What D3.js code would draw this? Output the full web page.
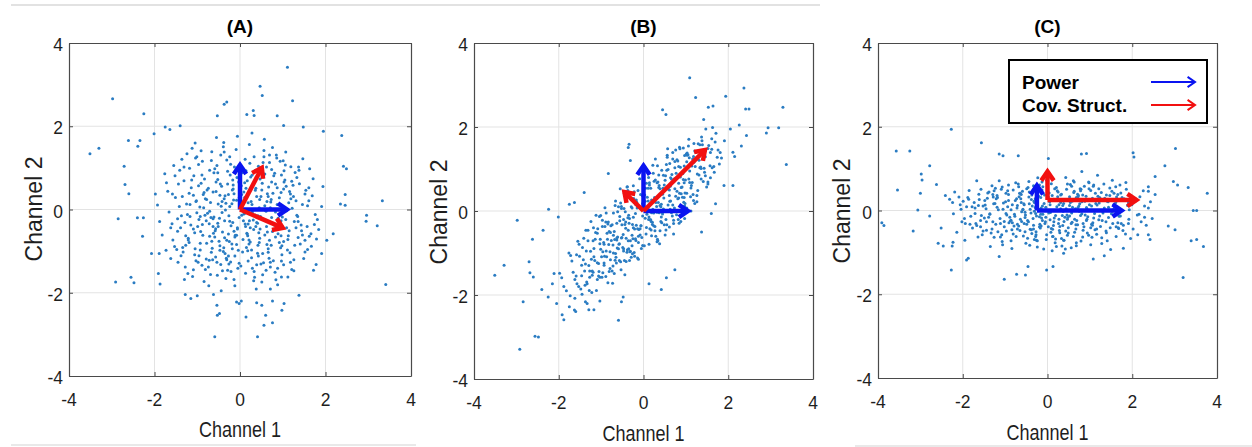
<!DOCTYPE html>
<html>
<head>
<meta charset="utf-8">
<script src="https://cdn.jsdelivr.net/npm/d3@7"></script>
<style>
  body { margin: 0; background: #fff; }
  svg { display: block; font-family: Arial, "Liberation Sans", sans-serif; }
</style>
</head>
<body>
<div id="chart"></div>
<script>
var svgWidth = 1252;
var svgHeight = 447;

// tick values shared by all three panels
var tickValues = [-4, -2, 0, 2, 4];
var gridValues = [-2, 0, 2];
var panelTitles = ["(A)", "(B)", "(C)"];
var legendLabels = ["Power", "Cov. Struct."];

// scatter points, [channel1, channel2]
var pointsA = [
  [0.12,-0.35],[-0.84,0.41],[1.03,0.66],[-0.27,-1.12],[0.58,0.09],[-1.46,-0.52],[0.33,1.27],[-0.61,-0.18],[1.52,-0.74],[0.05,0.88],
  [-0.93,-0.97],[0.71,-1.38],[-0.15,0.23],[1.18,0.37],[-1.72,0.64],[0.44,-0.56],[-0.38,1.61],[0.89,-0.21],[-1.09,-1.45],[0.21,-0.83],
  [-0.52,0.72],[1.37,1.02],[-0.06,-0.47],[0.67,0.54],[-1.25,0.13],[0.95,-0.92],[-0.71,-0.64],[0.28,1.84],[-1.88,-0.29],[1.61,0.21],
  [-0.33,-1.66],[0.49,0.31],[-0.97,1.08],[1.84,-0.48],[0.09,-0.11],[-0.47,-0.87],[0.76,1.49],[-1.33,-1.02],[0.38,-1.91],[-0.18,0.47],
  [1.09,-0.03],[-0.81,0.26],[0.17,0.69],[-1.57,-0.73],[0.62,-0.41],[-0.24,-0.28],[1.26,-1.21],[-0.66,1.39],[0.97,0.83],[-0.02,-1.29],
  [-1.14,0.52],[0.41,-1.05],[-0.44,0.08],[1.71,0.74],[-0.89,-1.34],[0.26,0.19],[-1.98,0.37],[0.83,-0.66],[-0.13,1.02],[1.43,-0.37],
  [-0.58,-0.51],[0.07,-0.72],[-1.36,1.21],[0.54,1.13],[-0.76,-0.09],[1.12,-1.62],[-0.29,0.61],[0.93,0.12],[-1.62,-1.18],[0.31,-0.25],
  [-0.09,1.44],[1.58,-0.96],[-0.99,-0.41],[0.68,-1.17],[-0.41,-1.47],[1.24,0.58],[-1.19,-0.79],[0.16,-0.57],[-0.71,0.94],[0.47,0.73],
  [1.91,0.07],[-0.36,-0.68],[0.85,-0.48],[-1.51,0.29],[0.22,1.56],[-0.64,-1.21],[1.33,-0.14],[-0.18,-0.94],[-1.08,0.81],[0.59,-0.02],
  [-0.47,0.34],[1.02,-1.33],[-0.84,-1.73],[0.36,0.46],[-1.29,-0.31],[0.74,0.96],[-0.02,-0.19],[1.47,1.22],[-0.55,1.73],[0.13,-1.53],
  [-1.66,-0.06],[0.92,-0.79],[-0.23,0.83],[0.51,-1.74],[-1.03,0.19],[1.19,0.26],[-0.35,-1.06],[0.66,0.31],[-0.87,-0.62],[1.66,-0.58],
  [0.03,0.57],[-1.41,0.94],[0.79,-0.33],[-0.52,-0.33],[1.29,0.89],[-0.12,-1.83],[0.43,1.04],[-1.82,-0.61],[0.98,-1.09],[-0.69,0.17],
  [0.24,-0.44],[-0.96,-0.24],[1.54,0.46],[-0.31,1.19],[0.63,-0.84],[-1.22,-1.54],[0.11,0.29],[1.07,1.38],[-0.49,-0.76],[0.82,-1.51],
  [-1.55,1.06],[0.35,-0.13],[-0.74,-1.38],[1.36,-0.67],[-0.16,0.59],[0.57,1.69],[-1.05,-0.94],[0.19,-1.24],[-0.42,-0.07],[1.81,-0.24],
  [-0.91,0.63],[0.72,0.18],[-0.27,-0.59],[1.15,-0.51],[-1.39,-0.44],[0.46,-0.69],[-0.59,0.98],[0.94,1.16],[-0.08,-0.84],[-1.12,1.47],
  [0.61,-0.26],[-0.45,1.31],[1.22,0.03],[-0.79,-1.19],[0.29,-1.41],[-1.69,0.44],[0.87,0.52],[-0.21,-0.39],[1.49,-1.18],[-0.63,-0.22],
  [0.14,0.93],[-1.27,-0.86],[0.78,-1.23],[-0.37,0.26],[1.63,0.98],[-0.94,0.06],[0.39,-0.31],[-0.53,-1.58],[1.05,0.71],[-1.45,-1.27],
  [0.27,-0.97],[-0.06,1.76],[1.31,-0.44],[-0.83,0.73],[0.52,0.63],[-1.17,-0.17],[0.99,-0.18],[-0.26,-1.31],[0.69,1.31],[-1.93,0.11],
  [0.45,0.04],[-0.65,-0.93],[1.41,-0.83],[-0.14,0.38],[0.88,-1.41],[-1.01,1.27],[0.18,-0.63],[-0.77,0.47],[1.76,-0.12],[-0.32,-1.17],
  [0.56,1.42],[-1.48,-0.96],[0.06,-1.02],[1.16,0.43],[-0.57,-0.46],[0.83,-0.06],[-1.31,0.69],[0.34,-1.63],[-0.19,0.14],[1.39,0.62],
  [-0.73,-1.83],[0.64,-0.54],[-1.06,-0.56],[0.25,0.78],[1.11,-0.97],[-0.43,0.56],[0.71,-1.91],[-1.59,-0.34],[0.04,0.36],[0.96,0.41],
  [-0.34,-0.01],[1.27,-0.29],[-0.88,1.16],[0.42,-0.86],[-1.21,-0.69],[0.81,0.87],[-0.05,-1.41],[1.57,-0.41],[-0.67,-1.03],[0.32,0.64],
  [-1.76,0.86],[0.55,-1.28],[-0.25,-0.77],[1.06,1.07],[-0.51,0.13],[0.19,-0.35],[-1.11,-1.61],[0.89,-0.58],[-0.39,1.51],[1.69,0.33],
  [-0.82,-0.14],[0.12,1.21],[1.21,-1.44],[-0.62,-0.57],[0.48,-0.17],[-1.35,0.31],[0.73,0.24],[-0.11,-0.62],[1.02,-0.77],[-0.96,-1.11],
  [0.37,0.51],[-0.54,-1.27],[1.46,0.12],[-0.17,0.71],[0.66,-1.03],[-1.24,1.34],[0.08,-0.27],[0.91,-0.37],[-0.72,-0.34],[1.33,0.77],
  [-0.44,-1.95],[0.58,0.85],[-1.53,-0.89],[0.21,-0.73],[-0.86,0.36],[1.13,-0.63],[-0.29,-1.46],[0.77,0.39],[-1.01,-0.08],[0.53,-1.57],
  [1.79,-0.71],[-0.61,0.88],[0.32,-0.48],[-1.15,-0.37],[0.84,-1.69],[-0.08,0.22],[1.25,0.31],[-0.47,-0.98],[0.62,1.02],[-1.73,-0.98],
  [0.15,-0.91],[-0.91,1.41],[1.08,0.56],[-0.36,-0.27],[0.43,-1.12],[-1.28,-1.38],[0.96,-0.27],[-0.56,0.43],[1.52,-1.02],[-0.03,0.66],
  [-1.18,0.99],[0.69,-0.74],[-0.31,-1.21],[1.35,-0.17],[-0.78,-0.81],[0.28,0.12],[-1.44,0.61],[0.86,1.24],[-0.14,-0.52],[1.18,-1.27],
  [-0.68,-0.19],[0.39,-1.33],[-1.03,-1.23],[0.74,0.66],[-0.22,1.09],[1.62,-0.64],[-0.92,-0.53],[0.11,-0.09],[0.97,-1.62],[-1.37,-0.15],
  [0.42,-0.15],[-0.27,0.36],[0.81,-0.38],[-0.63,-0.41],[0.14,0.51],[-1.02,0.21],[0.55,0.78],[-0.38,-0.92],[1.14,0.16],[-0.12,-0.66],
  [0.23,1.11],[-0.79,-0.27],[0.96,-0.63],[-0.46,0.61],[0.04,-0.14],[1.28,-0.86],[-1.19,0.39],[0.37,-0.41],[-0.54,1.06],[0.71,0.04],
  [-0.21,-1.49],[1.03,0.93],[-0.89,0.83],[0.18,-0.99],[-0.33,0.15],[0.61,-1.46],[-1.27,-0.63],[0.46,0.24],[-0.07,0.77],[1.44,-0.51],
  [-0.66,-0.76],[0.29,-0.06],[-1.42,0.07],[0.85,1.31],[-0.17,-0.31],[0.66,-0.94],[-0.98,-1.27],[0.09,0.42],[-0.48,-0.21],[1.17,-1.04],
  [0.51,0.47],[-0.74,0.51],[0.32,-1.71],[-1.09,-0.47],[0.92,0.28],[-0.24,1.27],[1.58,0.09],[-0.57,-1.14],[0.13,-0.41],[-1.31,1.02],
  [0.74,-0.19],[-0.04,-0.98],[-0.85,0.04],[1.21,0.68],[0.36,0.94],[-0.41,-0.54],[0.97,-1.24],[-1.62,-0.44],[0.19,0.16],[-0.69,-1.56],
  [1.36,-0.29],[-0.16,0.49],[0.58,-0.61],[-1.13,0.71],[0.27,-1.16],[-0.31,-0.74],[0.83,0.61],[-0.93,-0.81],[1.67,-0.88],[0.01,0.19],
  [-0.52,0.88],[0.45,-0.79],[-1.23,-0.12],[0.69,1.13],[-0.12,-1.12],[1.09,-0.44],[-0.78,0.24],[0.22,-0.27],[-0.37,1.38],[1.52,0.37],
  [-1.06,-1.09],[0.61,-0.04],[-0.24,0.07],[0.88,-1.81],[-0.63,0.42],[0.34,0.66],[-1.52,0.81],[1.02,0.49],[-0.08,-0.62],[0.49,-1.31],
  [-0.88,-0.36],[1.31,0.21],[0.07,0.98],[-0.45,-1.32],[0.76,-0.53],[-1.34,-0.91],[0.39,0.31],[-0.19,-0.83],[1.19,1.03],[-0.71,-0.04],
  [0.17,-0.59],[-1.04,1.24],[0.94,-0.12],[-0.29,0.92],[0.53,-1.06],[-0.59,-0.66],[1.46,-0.61],[-0.02,0.28],[0.71,-1.27],[-1.17,0.12],
  [0.28,0.82],[-0.81,-1.44],[1.12,-0.72],[-0.35,0.33],[0.64,0.38],[-1.46,-0.22],[0.02,-1.36],[0.87,0.12],[-0.51,-0.41],[1.38,0.94],
  [-0.97,0.57],[0.41,-0.33],[-0.14,-1.68],[1.07,-0.24],[-0.67,1.18],[0.24,-0.78],[-1.21,-0.73],[0.79,0.81],[-0.42,0.19],[1.74,-0.36],
  [-0.06,-0.44],[0.56,1.27],[-0.93,-0.17],[0.33,-1.49],[-1.58,0.37],[0.98,-0.87],[-0.26,-0.15],[0.63,0.19],[-0.72,-1.22],[1.26,-1.47],
  [0.11,0.64],[-0.39,-1.01],[1.01,1.17],[-1.09,0.34],[0.47,-0.47],[-0.56,0.66],[1.61,0.52],[-0.22,-1.26],[0.73,-0.86],[-1.38,-1.11],
  [1.11,3.42],[0.47,2.96],[0.52,2.74],[-2.98,2.66],[-2.25,2.30],[-0.31,2.58],[-0.37,2.53],[1.23,2.61],[0.31,2.38],[0.33,2.26],
  [0.16,2.28],[-0.53,2.25],[0.87,2.25],[-3.51,1.34],[-3.30,1.47],[-2.61,1.66],[-2.34,1.66],[-2.39,1.52],[-2.01,1.82],[-1.75,1.98],
  [-1.64,1.92],[-1.40,2.01],[2.38,1.78],[2.42,1.04],[2.49,0.98],[-2.71,1.04],[-2.69,0.60],[-2.60,0.38],[-2.85,-0.22],[-2.40,-0.20],
  [-2.26,-0.20],[-2.28,-0.64],[-2.07,-1.06],[-1.89,-1.06],[-2.91,-1.74],[-2.55,-1.63],[-2.48,-1.76],[3.33,0.21],[2.96,-0.14],[2.95,-0.28],
  [3.21,-0.39],[3.41,-1.80],[2.46,0.36],[2.35,0.13],[2.46,0.10],[2.03,-0.74],[2.18,-0.58],[1.91,-1.06],[1.72,-1.46],[1.78,-1.32],
  [1.38,-2.06],[1.03,-2.26],[0.98,-2.42],[0.76,-2.20],[0.76,-2.72],[0.56,-2.78],[0.60,-2.54],[0.41,-3.06],[0.39,-2.24],[0.51,-2.30],
  [0.14,-2.58],[-0.59,-3.06],[-0.53,-2.54],[-0.48,-2.50],[-0.54,-2.30],[-0.62,-2.04],[-0.08,-2.22],[-0.02,-2.26],[0.03,-2.20],[-1.15,-2.14],
  [-1.28,-2.04],[-1.00,-2.07],[-1.87,-1.79],[-1.91,-1.54],[1.95,1.88],[1.48,1.98],[1.02,2.02],[-1.05,1.60],[1.94,0.55],[-1.30,-1.68]
];

var pointsB = [
  [0.12,-0.20],[-0.84,-0.31],[1.03,1.38],[-0.27,-0.83],[0.58,0.59],[-1.46,-1.54],[0.33,1.08],[-0.61,-0.62],[1.52,0.69],[0.05,0.54],
  [-0.93,-1.29],[0.71,-0.30],[-0.15,0.07],[1.18,1.30],[-1.72,-1.06],[0.44,-0.03],[-0.38,0.58],[0.89,0.56],[-1.09,-1.63],[0.21,-0.32],
  [-0.52,0.06],[1.37,1.76],[-0.06,-0.35],[0.67,0.87],[-1.25,-0.96],[0.95,0.21],[-0.71,-1.00],[0.28,1.24],[-1.88,-1.80],[1.61,1.47],
  [-0.33,-1.18],[0.49,0.62],[-0.97,-0.22],[1.84,1.26],[0.09,-0.02],[-0.47,-0.90],[0.76,1.45],[-1.33,-1.73],[0.38,-0.78],[-0.18,0.15],
  [1.09,0.95],[-0.81,-0.49],[0.17,0.54],[-1.57,-1.73],[0.62,0.23],[-0.24,-0.40],[1.26,0.37],[-0.66,0.24],[0.97,1.32],[-0.02,-0.82],
  [-1.14,-0.67],[0.41,-0.25],[-0.44,-0.32],[1.71,1.85],[-0.89,-1.56],[0.26,0.32],[-1.98,-1.48],[0.83,0.31],[-0.13,0.49],[1.43,1.02],
  [-0.58,-0.79],[0.07,-0.39],[-1.36,-0.46],[0.54,1.11],[-0.76,-0.70],[1.12,0.00],[-0.29,0.10],[0.93,0.89],[-1.62,-2.08],[0.31,0.11],
  [-0.09,0.77],[1.58,0.79],[-0.99,-1.09],[0.68,-0.12],[-0.41,-1.20],[1.24,1.40],[-1.19,-1.46],[0.16,-0.21],[-0.71,-0.05],[0.47,0.85],
  [1.91,1.67],[-0.36,-0.71],[0.85,0.42],[-1.51,-1.08],[0.22,1.09],[-0.64,-1.24],[1.33,1.03],[-0.18,-0.70],[-1.08,-0.42],[0.59,0.52],
  [-0.47,-0.20],[1.02,0.07],[-0.84,-1.71],[0.36,0.56],[-1.29,-1.30],[0.74,1.18],[-0.02,-0.12],[1.47,1.95],[-0.55,0.53],[0.13,-0.79],
  [-1.66,-1.46],[0.92,0.33],[-0.23,0.30],[0.51,-0.57],[-1.03,-0.78],[1.19,1.16],[-0.35,-0.90],[0.66,0.76],[-0.87,-1.09],[1.66,1.06],
  [0.03,0.38],[-1.41,-0.65],[0.79,0.47],[-0.52,-0.64],[1.29,1.60],[-0.12,-1.15],[0.43,0.97],[-1.82,-1.90],[0.98,0.18],[-0.69,-0.49],
  [0.24,-0.05],[-0.96,-0.97],[1.54,1.56],[-0.31,0.44],[0.63,0.04],[-1.22,-1.94],[0.11,0.24],[1.07,1.71],[-0.49,-0.87],[0.82,-0.20],
  [-1.55,-0.72],[0.35,0.20],[-0.74,-1.43],[1.36,0.76],[-0.16,0.21],[0.57,1.48],[-1.05,-1.44],[0.19,-0.59],[-0.42,-0.41],[1.81,1.39],
  [-0.91,-0.37],[0.72,0.71],[-0.27,-0.58],[1.15,0.68],[-1.39,-1.43],[0.46,-0.01],[-0.59,0.10],[0.94,1.50],[-0.08,-0.57],[-1.12,-0.10],
  [0.61,0.37],[-0.45,0.42],[1.22,1.06],[-0.79,-1.37],[0.29,-0.60],[-1.69,-1.19],[0.87,1.04],[-0.21,-0.43],[1.49,0.57],[-0.63,-0.69],
  [0.14,0.67],[-1.27,-1.58],[0.78,-0.09],[-0.37,-0.16],[1.63,1.99],[-0.94,-0.75],[0.39,0.13],[-0.53,-1.40],[1.05,1.34],[-1.45,-1.98],
  [0.27,-0.37],[-0.06,1.00],[1.31,0.86],[-0.83,-0.26],[0.52,0.84],[-1.17,-1.09],[0.99,0.74],[-0.26,-1.02],[0.69,1.39],[-1.93,-1.59],
  [0.45,0.40],[-0.65,-1.10],[1.41,0.70],[-0.14,0.13],[0.88,-0.10],[-1.01,-0.11],[0.18,-0.25],[-0.77,-0.35],[1.76,1.45],[-0.32,-0.97],
  [0.56,1.33],[-1.48,-1.86],[0.06,-0.55],[1.16,1.24],[-0.57,-0.78],[0.83,0.66],[-1.31,-0.71],[0.34,-0.71],[-0.19,-0.06],[1.39,1.58],
  [-0.73,-1.72],[0.64,0.24],[-1.06,-1.25],[0.25,0.71],[1.11,0.34],[-0.43,-0.02],[0.71,-0.55],[-1.59,-1.55],[0.04,0.23],[0.96,1.07],
  [-0.34,-0.29],[1.27,0.88],[-0.88,-0.05],[0.42,-0.14],[-1.21,-1.43],[0.81,1.19],[-0.05,-0.89],[1.57,1.08],[-0.67,-1.17],[0.32,0.67],
  [-1.76,-1.00],[0.55,-0.33],[-0.25,-0.66],[1.06,1.55],[-0.51,-0.33],[0.19,-0.04],[-1.11,-1.89],[0.89,0.41],[-0.39,0.57],[1.69,1.64],
  [-0.82,-0.80],[0.12,0.80],[1.21,0.18],[-0.62,-0.88],[0.48,0.31],[-1.35,-0.95],[0.73,0.77],[-0.11,-0.44],[1.02,0.42],[-0.96,-1.47],
  [0.37,0.61],[-0.54,-1.21],[1.46,1.29],[-0.17,0.26],[0.66,-0.04],[-1.24,-0.25],[0.08,-0.08],[0.91,0.57],[-0.72,-0.81],[1.33,1.58],
  [-0.44,-1.52],[0.58,0.99],[-1.53,-1.80],[0.21,-0.27],[-0.86,-0.53],[1.13,0.61],[-0.29,-1.10],[0.77,0.90],[-1.01,-0.91],[0.53,-0.45],
  [1.79,1.12],[-0.61,-0.02],[0.32,-0.03],[-1.15,-1.18],[0.84,-0.29],[-0.08,0.08],[1.25,1.26],[-0.47,-0.95],[0.62,1.13],[-1.73,-2.02],
  [0.15,-0.42],[-0.91,0.08],[1.08,1.27],[-0.36,-0.46],[0.43,-0.28],[-1.28,-1.89],[0.96,0.67],[-0.56,-0.23],[1.52,0.64],[-0.03,0.37],
  [-1.18,-0.40],[0.69,0.14],[-0.31,-0.96],[1.35,1.05],[-0.78,-1.16],[0.28,0.29],[-1.44,-0.87],[0.86,1.48],[-0.14,-0.42],[1.18,0.25],
  [-0.68,-0.68],[0.39,-0.47],[-1.03,-1.58],[0.74,1.03],[-0.22,0.46],[1.62,1.03],[-0.92,-1.08],[0.11,0.04],[0.97,-0.18],[-1.37,-1.26],
  [0.42,0.16],[-0.27,0.07],[0.81,0.29],[-0.63,-0.64],[0.14,0.62],[-1.02,-0.67],[0.55,0.97],[-0.38,-0.92],[1.14,1.07],[-0.12,-0.60],
  [0.23,0.90],[-0.79,-0.97],[0.96,0.32],[-0.46,0.06],[0.04,-0.17],[1.28,0.49],[-1.19,-0.71],[0.37,-0.04],[-0.54,0.19],[0.71,0.70],
  [-0.21,-1.08],[1.03,1.33],[-0.89,-0.26],[0.18,-0.45],[-0.33,-0.18],[0.61,-0.38],[-1.27,-1.43],[0.46,0.54],[-0.07,0.39],[1.44,0.92],
  [-0.66,-1.01],[0.29,0.20],[-1.42,-1.16],[0.85,1.52],[-0.17,-0.34],[0.66,0.01],[-0.98,-1.58],[0.09,0.33],[-0.48,-0.56],[1.17,0.39],
  [0.51,0.73],[-0.74,-0.33],[0.32,-0.73],[-1.09,-1.23],[0.92,0.93],[-0.24,0.60],[1.58,1.39],[-0.57,-1.18],[0.13,-0.14],[-1.31,-0.46],
  [0.74,0.53],[-0.04,-0.63],[-0.85,-0.67],[1.21,1.43],[0.36,0.86],[-0.41,-0.65],[0.97,0.12],[-1.62,-1.63],[0.19,0.26],[-0.69,-1.49],
  [1.36,1.01],[-0.16,0.16],[0.58,0.14],[-1.13,-0.51],[0.27,-0.47],[-0.31,-0.71],[0.83,1.06],[-0.93,-1.24],[1.67,0.92],[0.01,0.11],
  [-0.52,0.11],[0.45,-0.07],[-1.23,-1.15],[0.69,1.24],[-0.12,-0.75],[1.09,0.68],[-0.78,-0.51],[0.22,0.04],[-0.37,0.49],[1.52,1.49],
  [-1.06,-1.55],[0.61,0.50],[-0.24,-0.15],[0.88,-0.25],[-0.63,-0.29],[0.34,0.69],[-1.52,-0.79],[1.02,1.17],[-0.08,-0.42],[0.49,-0.33],
  [-0.88,-0.95],[1.31,1.21],[0.07,0.66],[-0.45,-1.18],[0.76,0.35],[-1.34,-1.69],[0.39,0.53],[-0.19,-0.66],[1.19,1.61],[-0.71,-0.58],
  [0.17,-0.21],[-1.04,-0.13],[0.94,0.75],[-0.29,0.30],[0.53,-0.20],[-0.59,-0.90],[1.46,0.84],[-0.02,0.18],[0.71,-0.22],[-1.17,-0.89],
  [0.28,0.74],[-0.81,-1.44],[1.12,0.55],[-0.35,-0.10],[0.64,0.79],[-1.46,-1.29],[0.02,-0.83],[0.87,0.81],[-0.51,-0.63],[1.38,1.67],
  [-0.97,-0.37],[0.41,0.10],[-0.14,-1.12],[1.07,0.76],[-0.67,0.13],[0.24,-0.35],[-1.21,-1.53],[0.79,1.22],[-0.42,-0.26],[1.74,1.28],
  [-0.06,-0.35],[0.56,1.28],[-0.93,-0.79],[0.33,-0.67],[-1.58,-1.04],[0.98,0.43],[-0.26,-0.32],[0.63,0.59],[-0.72,-1.31],[1.26,0.22],
  [0.11,0.54],[-0.39,-0.98],[1.01,1.36],[-1.09,-0.53],[0.47,0.05],[-0.56,-0.13],[1.61,1.72],[-0.22,-0.99],[0.73,0.07],[-1.38,-1.77],
  [1.09,3.17],[2.37,2.93],[1.23,2.70],[2.41,2.43],[2.49,2.43],[3.29,2.47],[1.94,2.73],[1.64,2.50],[1.53,2.47],[0.45,2.41],
  [0.53,2.30],[2.94,1.98],[2.90,1.86],[3.19,1.98],[3.37,1.11],[2.43,1.80],[2.31,1.55],[2.15,1.30],[2.11,1.40],[2.11,0.61],
  [1.90,0.61],[-0.34,1.59],[-0.36,1.51],[-0.31,1.20],[-0.83,0.89],[-1.40,0.44],[-1.63,0.20],[-1.75,0.16],[-2.24,0.04],[-2.01,-0.14],
  [-2.98,-0.22],[-2.62,-0.67],[-2.37,-0.46],[-3.29,-1.29],[-3.51,-1.53],[-2.70,-1.21],[-2.68,-1.47],[-2.60,-1.57],[-2.40,-1.87],[-2.25,-2.05],
  [-2.05,-2.20],[-2.15,-1.73],[-2.11,-1.49],[-2.84,-2.16],[-2.56,-2.98],[-2.48,-3.00],[-2.92,-3.29],[-1.92,-2.47],[-1.88,-2.59],[-1.75,-2.28],
  [-1.63,-2.36],[-1.60,-2.39],[-1.37,-2.16],[-1.33,-2.20],[-1.29,-2.35],[-1.17,-2.35],[-1.03,-2.14],[-0.59,-2.60],[-0.52,-2.16],[-0.48,-2.05],
  [0.13,-1.73],[0.42,-1.87],[0.54,-1.59],[0.74,-1.40],[1.37,-0.50],[1.60,-0.06],[1.70,0.17],[2.05,1.95],[2.26,2.05],[1.42,2.18]
];

var pointsC = [
  [0.35,-0.12],[-1.21,0.28],[1.48,-0.41],[-0.46,0.55],[0.92,0.07],[-1.83,-0.33],[0.13,-0.62],[1.97,0.36],[-0.78,-0.09],[0.61,0.71],
  [-0.15,-0.37],[1.22,0.18],[-1.54,-0.58],[0.47,-0.21],[-0.62,0.19],[2.21,-0.27],[0.04,0.42],[-1.07,-0.74],[1.71,0.61],[-0.31,-0.02],
  [0.83,-0.63],[-2.06,0.14],[0.22,0.09],[1.09,-0.18],[-0.94,0.47],[0.56,-0.89],[-1.39,-0.16],[1.56,0.03],[-0.23,0.78],[0.71,0.29],
  [-0.71,-0.44],[1.84,-0.56],[-0.05,-0.27],[-1.62,0.39],[0.98,0.52],[0.28,-0.48],[-1.16,0.02],[2.43,0.21],[-0.42,-0.83],[1.31,-0.06],
  [0.09,0.64],[-0.88,-0.25],[1.63,0.32],[-1.95,-0.71],[0.67,-0.34],[-0.36,0.11],[1.18,0.84],[-1.31,0.59],[0.44,0.01],[2.02,-0.44],
  [-0.57,-0.61],[0.76,0.16],[-1.71,0.06],[1.41,-0.72],[-0.19,-0.15],[0.31,0.37],[-1.02,-0.39],[1.89,0.12],[-2.31,0.27],[0.52,-0.13],
  [1.07,-0.29],[-0.67,0.33],[0.18,-0.77],[-1.44,-0.47],[1.52,0.46],[-0.27,-0.51],[0.87,0.58],[-0.99,0.21],[2.16,-0.09],[-0.08,0.17],
  [0.64,-0.52],[-1.85,0.48],[1.27,0.27],[-0.52,-0.11],[0.38,-1.02],[-1.27,0.16],[1.74,-0.31],[-0.13,0.49],[0.95,-0.15],[-0.84,-0.91],
  [2.54,0.38],[-0.38,0.26],[0.26,-0.31],[-1.58,-0.24],[1.13,0.41],[-0.75,0.66],[0.58,0.22],[-2.14,-0.52],[1.38,-0.49],[-0.02,-0.58],
  [0.81,0.93],[-1.12,-0.19],[1.96,-0.67],[-0.33,-0.35],[0.45,0.51],[-1.67,0.71],[1.02,-0.82],[-0.61,-0.03],[0.15,0.24],[1.61,0.19],
  [-0.92,0.38],[0.69,-0.24],[-2.22,-0.08],[1.25,-0.38],[-0.44,0.69],[0.33,-0.67],[1.86,0.51],[-1.35,-0.86],[0.07,-0.05],[-0.71,0.12],
  [1.44,0.08],[-0.24,-0.72],[0.91,0.34],[-1.77,-0.42],[0.54,0.62],[-1.05,0.03],[2.33,-0.35],[-0.16,0.31],[1.16,-0.57],[-0.55,-0.31],
  [0.27,0.14],[-1.48,0.24],[1.69,-0.14],[-0.81,-0.56],[0.75,-0.02],[-0.09,-0.92],[1.33,0.63],[-1.91,0.09],[0.49,-0.41],[-0.35,0.44],
  [2.08,0.24],[-0.64,-0.21],[0.12,-0.45],[-1.23,0.53],[1.04,0.11],[-0.47,-0.66],[0.79,-0.73],[-1.56,-0.12],[1.53,0.72],[0.02,0.32],
  [-0.97,-0.49],[0.62,0.43],[-2.41,0.36],[1.21,-0.22],[-0.29,0.07],[0.41,-0.16],[1.78,-0.48],[-1.19,0.36],[0.86,-0.39],[-0.12,-0.24],
  [0.98,0.66],[-1.64,-0.63],[0.21,0.55],[1.49,-0.93],[-0.73,0.28],[0.57,-0.06],[-1.29,-0.27],[2.26,0.47],[-0.41,-0.45],[0.34,-0.85],
  [1.35,0.29],[-0.86,0.02],[0.06,-0.22],[-1.99,0.22],[0.73,0.36],[-0.51,-0.78],[1.92,-0.21],[-0.19,0.61],[0.47,-0.59],[-1.38,0.44],
  [0.89,-0.11],[-0.59,0.46],[1.58,0.09],[-1.08,-0.58],[0.31,0.19],[-0.26,-0.13],[2.47,-0.19],[-1.47,0.13],[0.68,-0.84],[-0.04,0.08],
  [1.12,-0.46],[-0.79,-0.37],[0.43,0.79],[-1.69,-0.31],[1.66,0.38],[-0.32,0.22],[0.19,-0.68],[-1.14,0.71],[0.96,0.26],[-0.53,-0.17],
  [2.13,-0.58],[-0.17,-0.42],[0.66,0.04],[-1.88,0.31],[1.29,-0.01],[-0.68,0.57],[0.39,-0.26],[-1.26,-0.64],[1.81,0.28],[0.11,-0.96],
  [-0.43,0.16],[0.84,-0.47],[-1.52,0.11],[1.47,0.54],[-0.86,-0.72],[0.24,0.33],[1.05,-0.64],[-2.02,-0.27],[0.53,0.28],[-0.11,-0.09],
  [1.73,0.42],[-0.94,0.09],[0.36,-0.36],[-1.41,0.42],[0.78,0.47],[-0.24,-0.87],[1.38,-0.27],[-0.65,-0.48],[2.38,0.06],[0.17,0.52],
  [-1.22,-0.33],[0.93,-0.21],[-0.37,0.37],[1.54,-0.31],[-0.76,0.24],[0.61,-0.62],[-1.73,0.19],[1.19,0.34],[-0.06,-0.31],[0.72,0.07],
  [-0.49,0.52],[1.99,0.14],[-1.31,-0.44],[0.46,-0.11],[1.02,0.48],[-0.89,-0.16],[0.14,0.27],[-2.19,0.44],[1.28,-0.79],[-0.28,-0.62],
  [0.71,0.39],[-1.09,0.51],[1.62,-0.39],[-0.58,0.03],[0.29,-0.53],[-1.58,-0.39],[0.99,0.14],[-0.21,0.34],[1.85,0.67],[-0.83,-0.29],
  [0.52,0.12],[-1.36,-0.08],[1.09,0.61],[-0.31,-0.69],[0.84,-0.31],[-1.96,-0.19],[1.41,0.22],[-0.66,0.41],[0.09,-0.43],[2.29,0.11],
  [-1.04,0.18],[0.38,-0.71],[1.76,0.31],[-0.45,-0.27],[0.63,0.68],[-1.61,0.26],[1.23,-0.13],[-0.15,0.06],[0.94,-0.54],[-0.92,0.61],
  [1.51,-0.08],[-0.71,-0.33],[0.25,0.44],[-1.28,0.32],[2.05,0.29],[-0.37,-0.55],[0.81,0.21],[-1.81,-0.14],[1.14,0.17],[-0.02,0.72],
  [0.58,-0.28],[-1.17,-0.51],[1.39,0.37],[-0.55,0.14],[0.16,-0.18],[-2.09,0.32],[1.68,-0.43],[-0.33,0.59],[0.77,0.52],[-0.98,-0.07],
  [1.93,0.02],[-0.62,0.38],[0.42,-0.92],[-1.45,0.04],[1.06,-0.35],[-0.14,-0.18],[0.68,0.31],[-1.02,-0.26],[1.57,0.24],[-0.26,0.11],
  [0.27,-0.21],[-0.83,0.14],[1.34,0.06],[-0.38,-0.46],[0.72,0.33],[-1.49,-0.18],[0.05,0.21],[1.66,-0.29],[-0.64,0.41],[0.49,-0.54],
  [-0.21,0.03],[1.02,-0.41],[-1.26,0.47],[0.36,0.12],[-0.49,-0.33],[1.91,0.18],[-0.03,-0.69],[-0.96,-0.11],[1.21,0.52],[0.14,-0.36],
  [0.63,0.46],[-1.67,-0.36],[0.19,-0.12],[0.88,0.22],[-0.74,-0.62],[0.41,0.26],[-1.18,0.31],[1.44,-0.17],[-0.29,0.28],[0.56,-0.31],
  [-0.58,0.02],[1.57,0.41],[-0.11,0.57],[-1.33,-0.54],[0.81,-0.08],[0.21,-0.86],[-0.92,0.24],[2.12,-0.11],[-0.34,-0.19],[1.06,0.29],
  [0.02,-0.39],[-0.69,0.63],[1.28,-0.65],[-1.78,0.09],[0.54,0.19],[-0.27,-0.58],[0.97,0.68],[-1.11,-0.31],[0.33,0.39],[1.79,-0.35],
  [-0.44,0.32],[0.67,-0.44],[-1.57,0.51],[1.17,0.13],[-0.12,0.11],[0.39,-0.71],[-0.84,-0.46],[1.61,0.57],[-2.04,0.03],[0.44,0.04],
  [0.92,-0.24],[-0.53,-0.04],[0.11,0.36],[-1.24,0.17],[1.39,-0.53],[-0.18,-0.33],[0.74,0.11],[-0.81,0.49],[1.98,0.23],[-0.04,-0.16],
  [0.57,0.58],[-1.44,-0.27],[1.11,-0.07],[-0.43,0.44],[0.29,-0.38],[-1.06,-0.82],[1.53,-0.02],[-0.26,-0.71],[0.83,0.37],[-0.72,0.06],
  [2.29,-0.16],[-0.31,0.19],[0.23,0.47],[-1.36,-0.09],[0.97,-0.59],[-0.61,-0.26],[0.48,-0.17],[-1.86,0.27],[1.27,0.43],[0.03,-0.06],
  [0.68,-0.77],[-0.98,0.41],[1.72,-0.13],[-0.24,0.51],[0.37,-0.02],[-1.52,-0.49],[0.86,0.26],[-0.53,-0.51],[0.12,-0.62],[1.43,0.21],
  [-0.77,-0.14],[0.59,0.08],[-1.94,-0.31],[1.08,0.58],[-0.39,-0.06],[0.26,0.26],[1.67,-0.41],[-1.19,0.08],[0.15,-0.27],[-0.63,0.28],
  [1.29,-0.24],[-0.19,-0.39],[0.79,0.51],[-1.63,0.12],[0.43,-0.49],[-0.91,-0.29],[2.18,0.33],[-0.07,0.37],[1.04,-0.33],[-0.47,-0.24],
  [0.31,0.04],[-1.29,0.38],[1.56,0.14],[-0.68,-0.37],[0.64,-0.21],[-0.13,0.68],[1.23,0.31],[-1.71,-0.07],[0.52,0.33],[-0.28,-0.07],
  [1.91,-0.31],[-0.56,0.16],[0.08,-0.52],[-1.11,-0.63],[0.93,0.04],[-0.41,0.03],[0.71,-0.34],[-1.42,0.29],[1.47,0.36],[0.06,0.14],
  [-0.86,-0.23],[0.47,0.63],[-2.24,0.19],[1.16,-0.44],[-0.33,-0.44],[0.38,0.17],[1.62,-0.62],[-1.07,0.56],[0.78,-0.12],[-0.16,-0.09],
  [-2.27,1.94],[-1.56,1.62],[-3.57,1.42],[-3.25,1.42],[3.02,1.48],[2.02,1.38],[2.04,1.28],[-1.14,1.35],[-1.05,1.31],[-0.69,1.31],
  [0.02,1.24],[0.80,1.35],[0.92,1.36],[-2.78,1.07],[-2.98,0.87],[-2.96,0.73],[-3.54,0.49],[-3.91,-0.29],[-3.86,-0.36],[-3.17,-0.49],
  [-3.06,0.01],[-3.00,0.41],[-2.78,-0.13],[-2.58,-0.78],[-2.46,-0.85],[-2.25,-0.85],[-2.23,-0.76],[-2.27,-1.42],[-1.91,-1.18],[-1.87,-1.14],
  [-1.14,-1.10],[-1.02,-1.64],[-0.73,-1.52],[-0.52,-1.54],[-0.46,-1.34],[-0.02,-1.42],[0.13,-1.34],[1.08,-1.16],[1.34,-1.08],[1.79,-0.90],
  [3.20,-1.60],[3.68,-0.86],[3.52,-0.69],[3.39,-0.72],[3.44,0.00],[3.52,0.00],[3.77,0.41],[3.32,0.55],[3.07,0.61],[2.97,0.69],
  [2.77,1.07],[2.38,0.46],[2.38,0.57],[2.54,0.81],[3.01,-0.46],[2.85,-0.37],[2.42,-0.69],[2.38,-0.58],[-2.62,0.62],[-2.51,-0.42]
];

// arrows [x1, y1, x2, y2] in data units
var powerArrows = [
  [[0, 0, 0, 1.07], [0, 0, 1.1, 0]],
  [[0, 0, 0, 1.08], [0, 0, 1.05, 0]],
  [[-0.25, 0, -0.25, 0.6], [-0.25, 0, 1.75, 0]]
];
var covArrows = [
  [[0, 0, 0.51, 1.0], [0, 0, 1.0, -0.44]],
  [[0, 0, 1.45, 1.45], [0, 0, -0.45, 0.45]],
  [[0, 0.25, 0, 0.93], [0, 0.25, 2.1, 0.25]]
];

var allPoints = [pointsA, pointsB, pointsC];

// pixel layout of each axes box (left, right, top, bottom) and label spots
var layout = [
  {left: 69, right: 411, top: 43, bottom: 376, xlabY: 437, ylabX: 42, ylabY: 209},
  {left: 474, right: 813, top: 43, bottom: 379, xlabY: 441, ylabX: 447, ylabY: 212},
  {left: 878, right: 1217, top: 43, bottom: 378, xlabY: 440, ylabX: 850, ylabY: 211}
];

var blue = "#0a14f0";
var red = "#f21010";

var svg = d3.select("#chart")
  .append("svg")
  .attr("width", svgWidth)
  .attr("height", svgHeight);

// faint frame lines from the original figure
svg.append("line").attr("x1", 11).attr("x2", 820).attr("y1", 5).attr("y2", 5)
  .attr("stroke", "#e2e2e2").attr("stroke-width", 2);
svg.append("line").attr("x1", 11).attr("x2", 416).attr("y1", 445).attr("y2", 445)
  .attr("stroke", "#e2e2e2").attr("stroke-width", 1.5);
svg.append("line").attr("x1", 855).attr("x2", 1252).attr("y1", 446).attr("y2", 446)
  .attr("stroke", "#e2e2e2").attr("stroke-width", 1.5);

function drawArrow(g, x1, y1, x2, y2, color, width, head) {
  g.append("line")
    .attr("x1", x1).attr("y1", y1)
    .attr("x2", x2).attr("y2", y2)
    .attr("stroke", color)
    .attr("stroke-width", width);
  var ang = Math.atan2(y2 - y1, x2 - x1);
  var a1 = ang + Math.PI - 0.6;
  var a2 = ang + Math.PI + 0.6;
  g.append("path")
    .attr("d", "M" + (x2 + head * Math.cos(a1)) + "," + (y2 + head * Math.sin(a1)) +
      "L" + x2 + "," + y2 +
      "L" + (x2 + head * Math.cos(a2)) + "," + (y2 + head * Math.sin(a2)))
    .attr("fill", "none")
    .attr("stroke", color)
    .attr("stroke-width", width)
    .attr("stroke-linejoin", "miter");
}

layout.forEach(function(p, i) {
  var g = svg.append("g");

  var x = d3.scaleLinear().domain([-4, 4]).range([p.left, p.right]);
  var y = d3.scaleLinear().domain([-4, 4]).range([p.bottom, p.top]);

  // grid
  g.selectAll(".gx").data(gridValues).enter().append("line")
    .attr("x1", d => x(d)).attr("x2", d => x(d))
    .attr("y1", p.top).attr("y2", p.bottom)
    .attr("stroke", "#e3e3e3").attr("stroke-width", 1);
  g.selectAll(".gy").data(gridValues).enter().append("line")
    .attr("y1", d => y(d)).attr("y2", d => y(d))
    .attr("x1", p.left).attr("x2", p.right)
    .attr("stroke", "#e3e3e3").attr("stroke-width", 1);

  // points
  g.selectAll("circle").data(allPoints[i]).enter().append("circle")
    .attr("cx", d => x(d[0]))
    .attr("cy", d => y(d[1]))
    .attr("r", 1.5)
    .attr("fill", "#2a7cc2");

  // arrows: power (blue) then covariance structure (red)
  powerArrows[i].forEach(function(a) {
    drawArrow(g, x(a[0]), y(a[1]), x(a[2]), y(a[3]), blue, 4.5, 11);
  });
  covArrows[i].forEach(function(a) {
    drawArrow(g, x(a[0]), y(a[1]), x(a[2]), y(a[3]), red, 4.5, 11);
  });

  // axes box with inward ticks
  var xAxisB = d3.axisBottom(x).tickValues(tickValues).tickSizeInner(-4).tickSizeOuter(0).tickFormat("");
  var xAxisT = d3.axisTop(x).tickValues(tickValues).tickSizeInner(-4).tickSizeOuter(0).tickFormat("");
  var yAxisL = d3.axisLeft(y).tickValues(tickValues).tickSizeInner(-4).tickSizeOuter(0).tickFormat("");
  var yAxisR = d3.axisRight(y).tickValues(tickValues).tickSizeInner(-4).tickSizeOuter(0).tickFormat("");
  [[xAxisB, "translate(0," + p.bottom + ")"], [xAxisT, "translate(0," + p.top + ")"],
   [yAxisL, "translate(" + p.left + ",0)"], [yAxisR, "translate(" + p.right + ",0)"]].forEach(function(ax) {
    var a = g.append("g").attr("transform", ax[1]).call(ax[0]);
    a.select(".domain").attr("stroke", "#4a4a4a").attr("stroke-width", 1.2);
    a.selectAll(".tick line").attr("stroke", "#4a4a4a");
  });

  // tick labels
  g.selectAll(".xt").data(tickValues).enter().append("text")
    .attr("transform", d => "translate(" + x(d) + "," + (p.bottom + 30) + ") scale(0.92,1)")
    .attr("text-anchor", "middle")
    .attr("font-size", "19px")
    .attr("fill", "#1e1e1e")
    .text(d => d);
  g.selectAll(".yt").data(tickValues).enter().append("text")
    .attr("transform", d => "translate(" + (p.left - 6) + "," + (y(d) + 8) + ") scale(0.92,1)")
    .attr("text-anchor", "end")
    .attr("font-size", "19px")
    .attr("fill", "#1e1e1e")
    .text(d => d);

  // axis labels
  g.append("text")
    .attr("transform", "translate(" + ((p.left + p.right) / 2) + "," + p.xlabY + ") scale(0.82,1)")
    .attr("text-anchor", "middle")
    .attr("font-size", "22px")
    .attr("fill", "#1e1e1e")
    .text("Channel 1");
  g.append("text")
    .attr("transform", "translate(" + p.ylabX + "," + p.ylabY + ") rotate(-90)")
    .attr("text-anchor", "middle")
    .attr("font-size", "23px")
    .attr("fill", "#1e1e1e")
    .text("Channel 2");

  // title
  g.append("text")
    .attr("x", (p.left + p.right) / 2)
    .attr("y", 33)
    .attr("text-anchor", "middle")
    .attr("font-size", "19px")
    .attr("font-weight", "bold")
    .attr("fill", "#000")
    .text(panelTitles[i]);
});

// legend in panel C
var legend = svg.append("g");
legend.append("rect")
  .attr("x", 1009).attr("y", 60)
  .attr("width", 198).attr("height", 63)
  .attr("fill", "#fff")
  .attr("stroke", "#000")
  .attr("stroke-width", 2);
var legendColors = [blue, red];
legendLabels.forEach(function(lab, k) {
  var ly = 82 + k * 23;
  legend.append("text")
    .attr("x", 1022).attr("y", ly + 7)
    .attr("font-size", "19px")
    .attr("font-weight", "bold")
    .attr("fill", "#000")
    .text(lab);
  drawArrow(legend, 1151, ly, 1195, ly, legendColors[k], 2, 9);
});
</script>
</body>
</html>
